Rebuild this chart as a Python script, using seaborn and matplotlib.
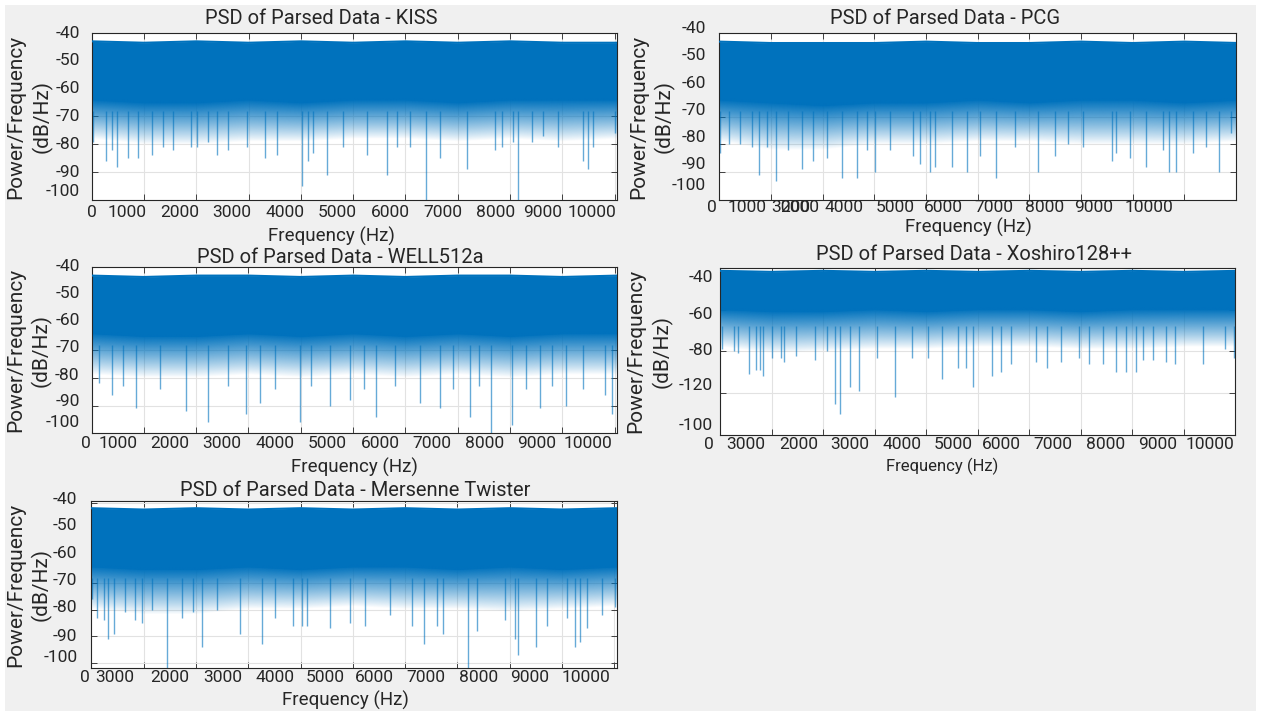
import numpy as np
import pandas as pd
import matplotlib
matplotlib.use("Agg")
import matplotlib.pyplot as plt
import matplotlib.colors as mcolors
import seaborn as sns
from matplotlib.patches import Rectangle

# ================= DATA =================
ENV_FREQ = [0, 1000, 2000, 3000, 4000, 5000, 6000, 7000, 8000, 9000, 10050]

KISS_TOP = [-43.0, -43.5, -43.0, -43.5, -43.0, -43.5, -43.0, -43.5, -43.0, -43.5, -43.5]
KISS_CORE = [-64, -65, -65, -64, -65, -64, -64, -65, -64, -64, -64]
KISS_STREAK = [-71, -73, -73, -72, -72, -71, -71, -72, -71, -72, -71]
KISS_SPIKE_HZ = [31, 273, 382, 490, 700, 891, 1147, 1369, 1560, 1899, 2008, 2230, 2403, 2612,
                 2964, 3314, 3537, 4015, 4141, 4237, 4505, 4811, 5258, 5652, 5832, 6086, 6392,
                 6660, 7182, 7711, 7839, 8061, 8157, 8413, 8635, 8922, 9400, 9495, 9591, 10006]
KISS_SPIKE_DB = [-79, -86, -82, -88, -85, -85, -84, -81, -82, -81, -81, -79, -84, -82,
                 -81, -85, -84, -95, -86, -83, -91, -81, -84, -91, -81, -81, -101,
                 -85, -89, -82, -81, -79, -101, -79, -77, -81, -86, -89, -81, -76]

PCG_TOP = [-43.0, -43.5, -43.5, -43.5, -43.0, -43.5, -43.5, -43.0, -43.5, -43.0, -43.5]
PCG_CORE = [-64, -65, -66, -65, -65, -64, -65, -64, -64, -65, -64]
PCG_STREAK = [-72, -75, -75, -73, -73, -72, -72, -73, -73, -73, -72]
PCG_SPIKE_HZ = [14, 193, 400, 627, 768, 917, 1091, 1335, 1594, 1818, 2089, 2368, 2670, 2851,
                3012, 3302, 3752, 3882, 4075, 4172, 4495, 4785, 5043, 5352, 5720, 6170, 6493,
                6750, 7040, 7609, 7687, 7944, 8253, 8588, 8704, 8847, 9168, 9427, 9665, 9911]
PCG_SPIKE_DB = [-83, -80, -80, -81, -91, -81, -93, -82, -89, -86, -85, -92, -92, -82,
                -90, -82, -84, -87, -90, -88, -88, -90, -84, -92, -81, -90, -84,
                -80, -81, -86, -83, -85, -88, -82, -90, -90, -83, -81, -90, -76]

WELL_TOP = [-43.0, -43.5, -43.0, -43.0, -43.5, -43.0, -43.5, -43.0, -43.0, -43.5, -43.0]
WELL_CORE = [-64, -65, -65, -64, -65, -64, -65, -64, -65, -64, -64]
WELL_STREAK = [-72, -73, -73, -72, -73, -72, -73, -72, -73, -72, -72]
WELL_SPIKE_HZ = [150, 392, 600, 851, 1300, 1807, 2228, 2600, 2954, 3222, 3500, 3987, 4200,
                 4560, 4943, 5200, 5440, 5800, 6281, 6663, 6900, 7237, 7400, 7639, 8040,
                 8300, 8576, 8800, 9073, 9400, 9818, 9952]
WELL_SPIKE_DB = [-82, -86, -83, -91, -84, -92, -96, -83, -93, -89, -84, -96, -83,
                 -90, -88, -84, -94, -83, -89, -91, -84, -94, -83, -101, -97,
                 -84, -91, -83, -90, -84, -86, -93]

XOSH_TOP = [-41.5, -42.0, -41.5, -42.0, -41.5, -42.0, -41.5, -42.0, -41.5, -42.0, -41.5]
XOSH_CORE = [-60, -61, -61, -60, -61, -60, -60, -61, -60, -60, -60]
XOSH_STREAK = [-71, -74, -73, -72, -72, -71, -71, -72, -72, -71, -71]
XOSH_SPIKE_HZ = [46, 271, 348, 561, 691, 774, 840, 1014, 1175, 1240, 1466, 1853, 2079, 2240,
                 2323, 2517, 2691, 3047, 3400, 3723, 4044, 4300, 4622, 4771, 4912, 5288,
                 5462, 5656, 6126, 6344, 6623, 6963, 7170, 7441, 7687, 7880, 8074, 8203,
                 8396, 8655, 8835, 9377, 9803, 9977]
XOSH_SPIKE_DB = [-79, -80, -81, -91, -89, -89, -92, -83, -83, -85, -82, -84, -80, -105,
                 -110, -97, -99, -83, -102, -83, -83, -93, -88, -88, -97, -92,
                 -90, -86, -85, -88, -85, -83, -86, -86, -90, -90, -90, -84,
                 -84, -85, -86, -86, -79, -83]

MT_TOP = [-42.0, -42.5, -42.0, -42.5, -42.0, -42.5, -42.0, -42.5, -42.0, -42.5, -42.0]
MT_CORE = [-64, -65, -65, -64, -65, -64, -64, -65, -64, -65, -64]
MT_STREAK = [-73, -75, -75, -73, -73, -72, -73, -73, -74, -73, -72]
MT_SPIKE_HZ = [15, 111, 245, 310, 430, 640, 832, 971, 1151, 1438, 1725, 1946, 2119, 2394,
               2839, 3254, 3509, 3859, 4019, 4115, 4560, 4943, 5229, 5707, 6122, 6363,
               6600, 6715, 7204, 7365, 7906, 8097, 8161, 8499, 8703, 9086, 9251, 9340,
               9468, 9755, 10010]
MT_SPIKE_DB = [-76, -83, -84, -91, -89, -81, -84, -85, -80, -103, -83, -81, -94, -80,
               -89, -93, -83, -86, -86, -86, -87, -85, -86, -82, -86, -93,
               -86, -89, -103, -88, -84, -91, -97, -94, -86, -83, -94, -92,
               -87, -82, -79]

TITLES = ['PSD of Parsed Data - KISS', 'PSD of Parsed Data - PCG', 'PSD of Parsed Data - WELL512a',
          'PSD of Parsed Data - Xoshiro128++', 'PSD of Parsed Data - Mersenne Twister']

STD_X_LABELS = ['0', '1000', '2000', '3000', '4000', '5000', '6000', '7000', '8000', '9000', '10000']
PCG_X_LABELS = ['0', '1000', '3000', '2000', '4000', '5000', '6000', '7000', '8000', '9000', '10000']
ODD_X_LABELS = ['0', '3000', '2000', '3000', '4000', '5000', '6000', '7000', '8000', '9000', '10000']
STD_Y_LABELS = ['-40', '-50', '-60', '-70', '-80', '-90', '-100']
XOSH_Y_LABELS = ['-40', '-60', '-80', '-120', '-100']

# ================= STYLE =================
sns.set_theme(style="whitegrid")
plt.rcParams['font.family'] = ['Roboto', 'DejaVu Sans']

BLUE = '#0072BD'
INK = '#262626'
W, H = 1261, 714

fig = plt.figure(figsize=(W / 100, H / 100), dpi=100, facecolor='white')
fig.patches.append(Rectangle((5 / W, 3 / H), 1251 / W, 706 / H, transform=fig.transFigure,
                             facecolor='#f0f0f0', edgecolor='none', zorder=-10))


def px_box(left, top, right, bottom):
    return [left / W, 1 - bottom / H, (right - left) / W, (bottom - top) / H]


def fade(ax, env, xlim, ylim):
    # soft lower edge of the noise floor: solid at 'core', thinning out below 'streak'
    xs = np.linspace(xlim[0], xlim[1], 900)
    ys = np.linspace(ylim[0], ylim[1], 500)
    core = np.interp(xs, env['f'], env['core'])
    floor = np.interp(xs, env['f'], env['streak']) - 7
    a = np.clip((ys[:, None] - floor[None, :]) / (core - floor)[None, :], 0, 1) ** 0.9
    a[ys[:, None] > core[None, :] + 0.5] = 0
    rgba = np.zeros((len(ys), len(xs), 4))
    rgba[..., :3] = mcolors.to_rgb(BLUE)
    rgba[..., 3] = a
    ax.imshow(rgba, extent=(xlim[0], xlim[1], ylim[0], ylim[1]), origin='lower',
              aspect='auto', interpolation='bilinear', zorder=2)


panels = [
    dict(box=px_box(91.7, 33, 617, 200), top=KISS_TOP, core=KISS_CORE, streak=KISS_STREAK,
         sf=KISS_SPIKE_HZ, sd=KISS_SPIKE_DB, xlim=(0, 10044), ylim=(-100, -40),
         yticks=[-40, -50, -60, -70, -80, -90, -100], ylab=STD_Y_LABELS,
         ylab_pos=[-40.2, -50, -60, -70, -80, -90, -96.9], ygap=12,
         xlab=STD_X_LABELS, xlab_pos=[0, 675, 1681, 2686, 3692, 4698, 5704, 6709, 7715, 8620, 9564],
         xgap=5, title_x=0.4365, title_dy=15, xl_x=0.4565, xl_dy=36, xl_size=13.5, yl_dx=63),
    dict(box=px_box(719.3, 33.3, 1236, 200), top=PCG_TOP, core=PCG_CORE, streak=PCG_STREAK,
         sf=PCG_SPIKE_HZ, sd=PCG_SPIKE_DB, xlim=(0, 10000), ylim=(-100, -40),
         yticks=[-40, -50, -60, -70, -80, -90, -100], ylab=STD_Y_LABELS,
         ylab_pos=[-38.1, -48.1, -57.9, -67.9, -77.6, -87.1, -94.7], ygap=13.5,
         xlab=PCG_X_LABELS, xlab_pos=[-147, 530, 1387, 1561, 2412, 3398, 4327, 5313, 6300, 7248, 8312],
         xgap=0, title_x=0.436, title_dy=15, xl_x=0.483, xl_dy=27, xl_size=13.5, yl_dx=68),
    dict(box=px_box(91.5, 267.3, 617, 433.3), top=WELL_TOP, core=WELL_CORE, streak=WELL_STREAK,
         sf=WELL_SPIKE_HZ, sd=WELL_SPIKE_DB, xlim=(0, 10044), ylim=(-100, -40.6),
         yticks=[-40, -50, -60, -70, -80, -90, -100], ylab=STD_Y_LABELS,
         ylab_pos=[-39.8, -49.6, -59.4, -69.1, -79, -88.5, -96], ygap=12,
         xlab=STD_X_LABELS, xlab_pos=[-107, 506, 1501, 2495, 3509, 4503, 5516, 6511, 7505, 8499, 9493],
         xgap=3, title_x=0.474, title_dy=10, xl_x=0.5, xl_dy=34, xl_size=13.5, yl_dx=63),
    dict(box=px_box(720, 267.7, 1235.3, 435), top=XOSH_TOP, core=XOSH_CORE, streak=XOSH_STREAK,
         sf=XOSH_SPIKE_HZ, sd=XOSH_SPIKE_DB, xlim=(0, 10000), ylim=(-120, -40),
         yticks=[-40, -60, -80, -100, -120], ylab=XOSH_Y_LABELS,
         ylab_pos=[-44.7, -62.3, -79.5, -96.3, -115.5], ygap=7,
         xlab=ODD_X_LABELS, xlab_pos=[-208, 504, 1519, 2522, 3525, 4526, 5465, 6460, 7482, 8491, 9505],
         xgap=2, title_x=0.492, title_dy=13, xl_x=0.432, xl_dy=31.5, xl_size=12, yl_dx=71),
    dict(box=px_box(91.3, 501, 616.7, 668.3), top=MT_TOP, core=MT_CORE, streak=MT_STREAK,
         sf=MT_SPIKE_HZ, sd=MT_SPIKE_DB, xlim=(0, 10044), ylim=(-102, -39.3),
         yticks=[-40, -50, -60, -70, -80, -90, -100], ylab=STD_Y_LABELS,
         ylab_pos=[-38.8, -48.5, -58.8, -69, -79.4, -90, -98.1], ygap=14,
         xlab=ODD_X_LABELS, xlab_pos=[-124, 449, 1501, 2509, 3514, 4465, 5421, 6396, 7396, 8384, 9455],
         xgap=2, title_x=0.503, title_dy=11, xl_x=0.483, xl_dy=32, xl_size=13.5, yl_dx=63),
]

TICK_SIZE = 12.5

for title, p in zip(TITLES, panels):
    ax = fig.add_axes(p['box'])
    ax.set_facecolor('white')
    ax.set_axisbelow(True)

    env = pd.DataFrame({'f': ENV_FREQ, 'top': p['top'], 'core': p['core'], 'streak': p['streak']})
    ax.fill_between(env['f'], env['top'], env['core'], color=BLUE, lw=0, zorder=2)
    fade(ax, env, p['xlim'], p['ylim'])
    sns.lineplot(data=env, x='f', y='top', ax=ax, color=BLUE, lw=1.5, zorder=3)

    spikes = pd.DataFrame({'f': p['sf'], 'db': p['sd']})
    ax.vlines(spikes['f'], spikes['db'], -68, color=BLUE, alpha=0.6, lw=1.0, zorder=2)

    ax.set_xlim(*p['xlim'])
    ax.set_ylim(*p['ylim'])
    ax.set_xticks(range(0, 10001, 1000))
    ax.set_yticks(p['yticks'])
    ax.grid(True, color='#e2e2e2', lw=0.8)
    ax.tick_params(direction='in', length=4, width=0.6, color=INK, top=True, right=True,
                   bottom=True, left=True, labelbottom=False, labelleft=False)
    for s in ax.spines.values():
        s.set_visible(True)
        s.set_color(INK)
        s.set_linewidth(0.8)
    ax.set_xlabel('')
    ax.set_ylabel('')

    # tick labels where the reference shows them
    for lab, xv in zip(p['xlab'], p['xlab_pos']):
        ax.annotate(lab, xy=(xv, 0), xycoords=('data', 'axes fraction'), xytext=(0, -p['xgap']),
                    textcoords='offset pixels', ha='center', va='top', fontsize=TICK_SIZE,
                    color=INK, annotation_clip=False)
    for lab, yv in zip(p['ylab'], p['ylab_pos']):
        ax.annotate(lab, xy=(0, yv), xycoords=('axes fraction', 'data'), xytext=(-p['ygap'], 0),
                    textcoords='offset pixels', ha='right', va='center', fontsize=TICK_SIZE,
                    color=INK, annotation_clip=False)

    ax.annotate(title, xy=(p['title_x'], 1), xycoords='axes fraction', xytext=(0, p['title_dy']),
                textcoords='offset pixels', ha='center', va='center', fontsize=14.5, color=INK)
    ax.annotate('Frequency (Hz)', xy=(p['xl_x'], 0), xycoords='axes fraction',
                xytext=(0, -p['xl_dy']), textcoords='offset pixels', ha='center', va='center',
                fontsize=p['xl_size'], color=INK)
    for line, dx in (('Power/Frequency', -p['yl_dx'] - 13), ('(dB/Hz)', -p['yl_dx'] + 13)):
        ax.annotate(line, xy=(0, 0.5), xycoords='axes fraction', xytext=(dx, 0),
                    textcoords='offset pixels', ha='center', va='center',
                    rotation=90, fontsize=15, color=INK)

fig.savefig('out.png', dpi=100, facecolor='white')
